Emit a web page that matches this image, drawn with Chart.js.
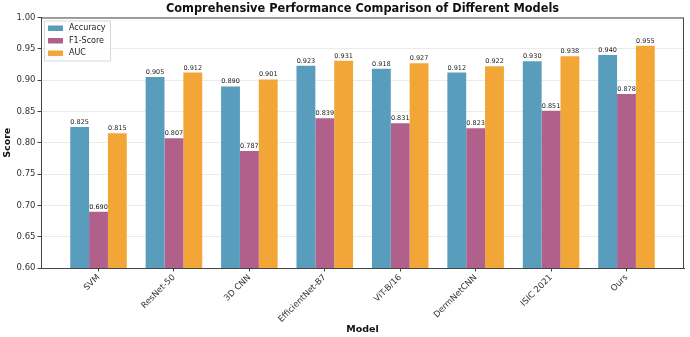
<!DOCTYPE html>
<html>
<head>
<meta charset="utf-8">
<script src="https://cdn.jsdelivr.net/npm/chart.js@4.4.1/dist/chart.umd.min.js"></script>
<style>
  html, body { margin: 0; padding: 0; background: #fff; }
  #wrap { width: 690px; height: 337px; }
</style>
</head>
<body>
<div id="wrap"><canvas id="perfChart" width="690" height="337"></canvas></div>
<script>
// ── data ──
const models = ['SVM', 'ResNet-50', '3D CNN', 'EfficientNet-B7', 'ViT-B/16', 'DermNetCNN', 'ISIC 2021', 'Ours'];
const accuracy = [0.825, 0.905, 0.890, 0.923, 0.918, 0.912, 0.930, 0.940];
const f1Score  = [0.690, 0.807, 0.787, 0.839, 0.831, 0.823, 0.851, 0.878];
const auc      = [0.815, 0.912, 0.901, 0.931, 0.927, 0.922, 0.938, 0.955];
const yTicks   = [0.60, 0.65, 0.70, 0.75, 0.80, 0.85, 0.90, 0.95, 1.00];
const chartTitle = 'Comprehensive Performance Comparison of Different Models';

const FONT = 'DejaVu Sans';
const pts = arr => arr.map((v, i) => ({ x: i, y: v }));

// value labels above each bar
const valueLabels = {
  id: 'valueLabels',
  afterDatasetsDraw(chart) {
    const ctx = chart.ctx;
    ctx.save();
    ctx.font = '6.5px ' + FONT;
    ctx.fillStyle = '#222';
    ctx.textAlign = 'center';
    ctx.textBaseline = 'bottom';
    chart.data.datasets.forEach((ds, di) => {
      chart.getDatasetMeta(di).data.forEach((bar, i) => {
        ctx.fillText(ds.data[i].y.toFixed(3), bar.x, bar.y - 1.5);
      });
    });
    ctx.restore();
  }
};

// title over the plot, frame around it, legend box in the upper left
const decorations = {
  id: 'decorations',
  afterDraw(chart) {
    const { ctx, chartArea: a } = chart;
    ctx.save();
    ctx.fillStyle = '#111';
    ctx.font = 'bold 11.4px ' + FONT;
    ctx.textAlign = 'center';
    ctx.textBaseline = 'middle';
    ctx.fillText(chartTitle, (a.left + a.right) / 2, 9);

    ctx.strokeStyle = '#444';
    ctx.lineWidth = 1;
    ctx.strokeRect(a.left + 0.5, a.top + 0.5, a.right - a.left - 1, a.bottom - a.top);

    const lx = a.left + 3, ly = a.top + 3;
    ctx.fillStyle = 'rgba(255,255,255,0.85)';
    ctx.fillRect(lx, ly, 66, 40);
    ctx.strokeStyle = '#d8d8d8';
    ctx.strokeRect(lx + 0.5, ly + 0.5, 66, 40);
    ctx.font = '8px ' + FONT;
    ctx.textAlign = 'left';
    chart.data.datasets.forEach((ds, i) => {
      const cy = ly + 7.5 + i * 12.5;
      ctx.fillStyle = ds.backgroundColor;
      ctx.fillRect(lx + 4, cy - 2.5, 15, 5.5);
      ctx.fillStyle = '#222';
      ctx.fillText(ds.label, lx + 25, cy);
    });
    ctx.restore();
  }
};

new Chart(document.getElementById('perfChart'), {
  type: 'bar',
  data: {
    datasets: [
      { label: 'Accuracy', data: pts(accuracy), backgroundColor: 'rgb(88,158,188)' },
      { label: 'F1-Score', data: pts(f1Score),  backgroundColor: 'rgb(177,96,140)' },
      { label: 'AUC',      data: pts(auc),      backgroundColor: 'rgb(243,166,56)' }
    ]
  },
  options: {
    responsive: false,
    animation: false,
    categoryPercentage: 0.75,
    barPercentage: 1.0,
    layout: { padding: { left: 2, right: 6, top: 17.5, bottom: 0 } },
    plugins: {
      title: { display: false },
      legend: { display: false },
      tooltip: { enabled: false }
    },
    scales: {
      x: {
        type: 'linear',
        offset: false,
        min: -0.7625,
        max: 7.7625,
        afterBuildTicks: s => { s.ticks = models.map((_, i) => ({ value: i })); },
        afterFit: s => { s.height = 69; },
        ticks: {
          callback: v => models[v],
          autoSkip: false,
          maxRotation: 45,
          minRotation: 45,
          color: '#333',
          font: { family: FONT, size: 8.5 },
          padding: 1
        },
        grid: { drawOnChartArea: false, offset: false, tickLength: 3.5, tickColor: '#444' },
        border: { color: '#444' },
        title: {
          display: true,
          text: 'Model',
          color: '#111',
          font: { family: FONT, size: 9.5, weight: 'bold' },
          padding: { top: 4, bottom: 2 }
        }
      },
      y: {
        min: 0.6,
        max: 1.0,
        afterBuildTicks: s => { s.ticks = yTicks.map(v => ({ value: v })); },
        afterFit: s => { s.width = 39; },
        ticks: {
          callback: v => v.toFixed(2),
          color: '#333',
          font: { family: FONT, size: 8.5 },
          padding: 2
        },
        grid: {
          color: 'rgba(0,0,0,0.08)',
          borderDash: [2, 2],
          tickLength: 3.5,
          tickColor: '#444',
          tickBorderDash: []
        },
        border: { color: '#444' },
        title: {
          display: true,
          text: 'Score',
          color: '#111',
          font: { family: FONT, size: 9.5, weight: 'bold' },
          padding: { top: 0, bottom: 4 }
        }
      }
    }
  },
  plugins: [valueLabels, decorations]
});
</script>
</body>
</html>
